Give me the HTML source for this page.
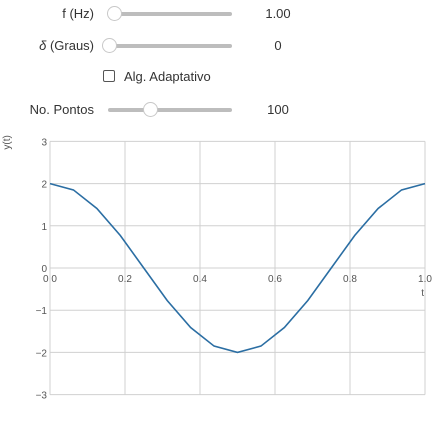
<!DOCTYPE html>
<html><head><meta charset="utf-8"><style>
body{margin:0;width:448px;height:427px;background:#fff;font-family:"Liberation Sans",sans-serif;position:relative;overflow:hidden}
.lbl{position:absolute;right:354px;font-size:13px;color:#333}
.track{position:absolute;left:108px;width:124px;height:4px;background:#bdbdbd;border-radius:2px}
.thumb{position:absolute;width:13px;height:13px;border-radius:50%;background:#fff;border:1px solid #c8c8c8}
.val{position:absolute;width:60px;left:248px;text-align:center;font-size:13px;color:#333}
</style></head><body>
<div class="lbl" style="top:6px">f (Hz)</div>
<div class="track" style="top:12px"></div>
<div class="thumb" style="left:107px;top:6px"></div>
<div class="val" style="top:6px">1.00</div>

<div class="lbl" style="top:38px"><i>δ</i> (Graus)</div>
<div class="track" style="top:44px"></div>
<div class="thumb" style="left:102px;top:38px"></div>
<div class="val" style="top:38px">0</div>

<div style="position:absolute;left:103px;top:70px;width:10px;height:10px;border:1px solid #555;border-radius:2px"></div>
<div style="position:absolute;left:124px;top:69px;font-size:13px;color:#333">Alg. Adaptativo</div>

<div class="lbl" style="top:102px">No. Pontos</div>
<div class="track" style="top:108px"></div>
<div class="thumb" style="left:143px;top:102px"></div>
<div class="val" style="top:102px">100</div>

<svg id="chart" width="448" height="427" style="position:absolute;left:0;top:0" font-family="Liberation Sans, sans-serif"></svg>
<script>
const tVals=[0,0.0625,0.125,0.1875,0.25,0.3125,0.375,0.4375,0.5,0.5625,0.625,0.6875,0.75,0.8125,0.875,0.9375,1];
const yVals=[2,1.85,1.41,0.77,0,-0.77,-1.41,-1.85,-2,-1.85,-1.41,-0.77,0,0.77,1.41,1.85,2];
const xTicks=[0,0.2,0.4,0.6,0.8,1.0];
const xTickLabels=["0.0","0.2","0.4","0.6","0.8","1.0"];
const yTicks=[3,2,1,0,-1,-2,-3];
const yTickLabels=["3","2","1","0","−1","−2","−3"];
const svg=document.getElementById('chart');
const NS='http://www.w3.org/2000/svg';
const X=t=>50+t*375, Y=v=>268-v*42.2;
function el(tag,a){const e=document.createElementNS(NS,tag);for(const k in a)e.setAttribute(k,a[k]);svg.appendChild(e);return e;}
xTicks.forEach((t,i)=>{
 if(i>0){const g=el('line',{x1:X(t),x2:X(t),y1:Y(3),y2:Y(-3),stroke:'#d0d0d0'});
 
 }
 const tx=el('text',{x:X(t),y:Y(0)+14,'font-size':10,fill:'#555','text-anchor':'middle'});
 tx.textContent=xTickLabels[i];
 
 
});
yTicks.forEach((v,i)=>{
 const g=el('line',{x1:X(0),x2:X(1),y1:Y(v),y2:Y(v),stroke:'#d0d0d0'});
 
 
 const tx=el('text',{x:X(0)-3,y:Y(v)+4,'font-size':10,fill:'#555','text-anchor':'end'});
 tx.textContent=yTickLabels[i];
 
 
});
const ax=el('line',{x1:X(0),x2:X(0),y1:Y(3),y2:Y(-3),stroke:'#d0d0d0'});


const xl=el('text',{x:X(1)-1,y:Y(0)+28,'font-size':10,fill:'#555','text-anchor':'end'});
xl.textContent='t';


const yl=el('text',{x:0,y:0,'font-size':10,fill:'#555','text-anchor':'middle',transform:'translate(10,'+(Y(3)+1)+') rotate(-90)'});
yl.textContent='y(t)';


const pl=el('polyline',{points:tVals.map((t,i)=>X(t)+','+Y(yVals[i])).join(' '),fill:'none',stroke:'#2b6ea3','stroke-width':1.6});


</script>
</body></html>
